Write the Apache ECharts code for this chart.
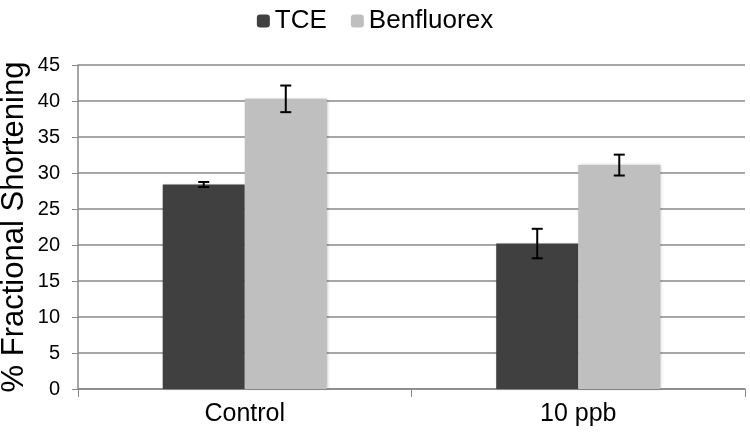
<!DOCTYPE html>
<html><head><meta charset="utf-8">
<script src="https://cdn.jsdelivr.net/npm/echarts@6/dist/echarts.min.js"></script>
<style>html,body{margin:0;padding:0;background:#fff}#c{width:750px;height:438px}</style>
</head><body><div id="c"></div>
<script>
var categories = ['Control', '10 ppb'];
var tceValues = [28.4, 20.2];
var tceErrors = [0.35, 2.05];
var benfValues = [40.3, 31.1];
var benfErrors = [1.85, 1.45];
var yTicks = [0, 5, 10, 15, 20, 25, 30, 35, 40, 45];

var BAR_PCT = 0.246;
function errData(vals, errs) {
  return vals.map(function (v, i) { return [i, v - errs[i], v + errs[i]]; });
}
function errRender(side) {
  return function (params, api) {
    var x = api.value(0);
    var lo = api.coord([x, api.value(1)]);
    var hi = api.coord([x, api.value(2)]);
    var bw = api.size([1, 0])[0] * BAR_PCT;
    var cx = lo[0] + side * bw / 2;
    var cap = 5.5;
    var st = { stroke: '#000', lineWidth: 2 };
    return { type: 'group', children: [
      { type: 'line', shape: { x1: cx, y1: hi[1], x2: cx, y2: lo[1] }, style: st },
      { type: 'line', shape: { x1: cx - cap, y1: hi[1], x2: cx + cap, y2: hi[1] }, style: st },
      { type: 'line', shape: { x1: cx - cap, y1: lo[1], x2: cx + cap, y2: lo[1] }, style: st }
    ]};
  };
}
var chart = echarts.init(document.getElementById('c'));
var ff = '"Liberation Sans", Arial, sans-serif';
chart.setOption({
  animation: false,
  textStyle: { fontFamily: ff },
  legend: {
    top: 3, left: 'center', itemWidth: 13, itemHeight: 13, itemGap: 24,
    textStyle: { fontSize: 26, color: '#000', fontFamily: ff },
    data: ['TCE', 'Benfluorex']
  },
  grid: { left: 78, right: 5, top: 65, bottom: 49, containLabel: false, outerBoundsMode: 'none' },
  xAxis: {
    type: 'category', data: categories,
    axisLine: { lineStyle: { color: '#888', width: 1.5 } },
    axisTick: { show: true, length: 8, lineStyle: { color: '#888' } },
    axisLabel: { fontSize: 25, color: '#000', margin: 13, fontFamily: ff }
  },
  yAxis: {
    type: 'value', min: yTicks[0], max: yTicks[yTicks.length - 1], interval: 5,
    name: '% Fractional Shortening', nameLocation: 'middle', nameGap: 48, nameMoveOverlap: false,
    nameTextStyle: { fontSize: 31, color: '#000', fontFamily: ff },
    axisLine: { show: true, lineStyle: { color: '#888', width: 1.5 } },
    axisTick: { show: true, length: 6, lineStyle: { color: '#888' } },
    axisLabel: { fontSize: 20, color: '#000', margin: 18, fontFamily: ff },
    splitLine: { lineStyle: { color: '#a6a6a6', width: 2 } }
  },
  series: [
    { name: 'TCE', type: 'bar', data: tceValues, barWidth: (BAR_PCT * 100) + '%', barGap: '0%',
      itemStyle: { color: '#404040', shadowColor: 'rgba(0,0,0,0.25)', shadowBlur: 3, shadowOffsetX: 1 } },
    { name: 'Benfluorex', type: 'bar', data: benfValues, barWidth: (BAR_PCT * 100) + '%', barGap: '0%',
      itemStyle: { color: '#bfbfbf', shadowColor: 'rgba(0,0,0,0.25)', shadowBlur: 3, shadowOffsetX: 1 } },
    { type: 'custom', renderItem: errRender(-1), data: errData(tceValues, tceErrors), z: 10, encode: { x: 0, y: [1, 2] } },
    { type: 'custom', renderItem: errRender(1), data: errData(benfValues, benfErrors), z: 10, encode: { x: 0, y: [1, 2] } }
  ]
});
</script></body></html>
